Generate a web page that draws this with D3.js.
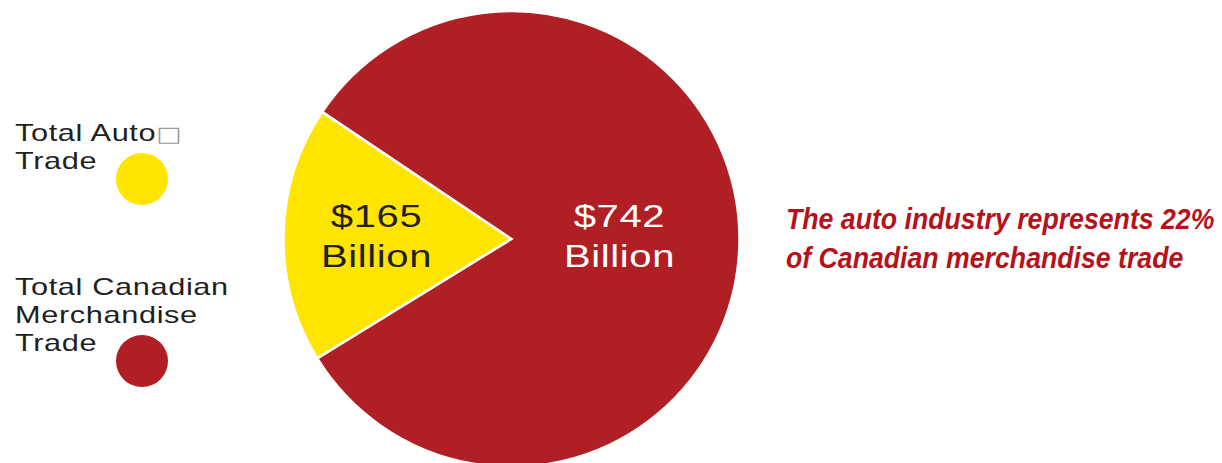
<!DOCTYPE html>
<html>
<head>
<meta charset="utf-8">
<script src="https://cdn.jsdelivr.net/npm/d3@7"></script>
<style>
  html, body { margin: 0; padding: 0; background: #fff; }
  svg { display: block; }
</style>
</head>
<body>
<svg id="chart" width="1222" height="463"></svg>
<script>
// Canadian trade: auto industry vs. total merchandise (billions of dollars)
const categories = ["Total Auto Trade", "Total Canadian Merchandise Trade"];
const values = [165, 742];
const colors = ["#FFE500", "#B01F24"];
const legendLines = [["Total Auto", "Trade"], ["Total Canadian", "Merchandise", "Trade"]];
const note = ["The auto industry represents 22%", "of Canadian merchandise trade"];

const svg = d3.select("#chart");
const cx = 511.5, cy = 239, R = 228;

const data = categories.map((c, i) => ({ category: c, value: values[i], color: colors[i] }));

// Place the auto slice so it opens toward the left side of the circle
const total = d3.sum(values);
const autoSpan = 2 * Math.PI * values[0] / total;
const centerAngle = 1.5 * Math.PI + 0.02;
const start = centerAngle - autoSpan / 2;

const pie = d3.pie().value(d => d.value).sort(null)
  .startAngle(start).endAngle(start + 2 * Math.PI);
const arcs = pie(data);
const arc = d3.arc().innerRadius(0).outerRadius(R);

const g = svg.append("g").attr("transform", `translate(${cx},${cy})`);

g.selectAll("path.slice")
  .data(arcs)
  .join("path")
  .attr("class", "slice")
  .attr("d", arc)
  .attr("fill", d => d.data.color)
  .attr("stroke", "#fff")
  .attr("stroke-width", 2.5)
  .attr("stroke-linejoin", "miter");

// Slice value labels
const labelRadius = [135, 108];
const labelFill = ["#231F20", "#ffffff"];
const labels = g.selectAll("g.label")
  .data(arcs)
  .join("g")
  .attr("class", "label")
  .attr("transform", (d, i) => {
    const a = (d.startAngle + d.endAngle) / 2;
    const x = Math.sin(a) * labelRadius[i];
    return `translate(${x},0)`;
  });

labels.each(function (d, i) {
  const sel = d3.select(this);
  ["$" + d.data.value, "Billion"].forEach((t, k) => {
    sel.append("text")
      .attr("transform", `translate(0,${k === 0 ? -12 : 28}) scale(1.25,1)`)
      .attr("text-anchor", "middle")
      .attr("font-family", "'Liberation Sans', Arial, sans-serif")
      .attr("font-size", 32)
      .attr("letter-spacing", 0.5)
      .attr("fill", labelFill[i])
      .text(t);
  });
});

// Legend
const legendTop = [141, 295];
const lineGap = 28;
const legend = svg.selectAll("g.legend")
  .data(data)
  .join("g")
  .attr("class", "legend");

legend.each(function (d, i) {
  const sel = d3.select(this);
  legendLines[i].forEach((line, k) => {
    const t = sel.append("text")
      .attr("transform", `translate(15,${legendTop[i] + k * lineGap}) scale(1.28,1)`)
      .attr("font-family", "'Liberation Sans', Arial, sans-serif")
      .attr("font-size", 24)
      .attr("letter-spacing", 0.5)
      .attr("fill", "#231F20")
      .text(line);
    if (i === 0 && k === 0) {
      t.append("tspan")
        .attr("fill", "#9a9a9a")
        .attr("font-family", "'DejaVu Sans', sans-serif")
        .attr("font-size", 21)
        .attr("dx", 0)
        .text("\u25A1");
    }
  });
  const nLines = legendLines[i].length;
  sel.append("circle")
    .attr("cx", 142)
    .attr("cy", legendTop[i] + (nLines - 1) * lineGap + 10)
    .attr("r", 26)
    .attr("fill", d.color);
});

// Annotation
svg.selectAll("text.note")
  .data(note)
  .join("text")
  .attr("class", "note")
  .attr("transform", (d, i) => `translate(786,${229 + i * 39}) scale(0.92,1)`)
  .attr("font-family", "'Liberation Sans', Arial, sans-serif")
  .attr("font-size", 29)
  .attr("font-weight", "bold")
  .attr("font-style", "italic")
  .attr("fill", "#B5121B")
  .text(d => d);
</script>
</body>
</html>
